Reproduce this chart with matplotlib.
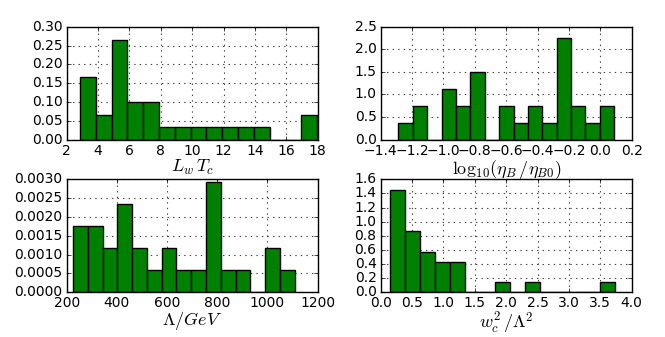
import numpy as np
import matplotlib
matplotlib.use('Agg')
import matplotlib.pyplot as plt

plt.style.use('classic')
plt.rcParams['font.family'] = ['DejaVu Sans']
plt.rcParams['mathtext.fontset'] = 'cm'
plt.rcParams['axes.unicode_minus'] = True

# bin edges (first edge, bin width, number of bins) and counts per bin
lwtc_start, lwtc_width = 2.85, 1.007
lwtc_counts = [5, 2, 8, 3, 3, 1, 1, 1, 1, 1, 1, 1, 0, 0, 2]

eta_start, eta_width = -1.287, 0.0917
eta_counts = [1, 2, 0, 3, 2, 4, 0, 2, 1, 2, 1, 6, 2, 1, 2]

lam_start, lam_width = 225.0, 58.9
lam_counts = [3, 3, 2, 4, 2, 1, 2, 1, 1, 5, 1, 1, 0, 2, 1]

wc_start, wc_width = 0.143, 0.239
wc_counts = [10, 6, 4, 3, 3, 0, 0, 1, 0, 1, 0, 0, 0, 0, 1]

xlabels = [r'$L_w\,T_c$', r'$\mathrm{log}_{10}(\eta_B\,/\eta_{B0})$',
           r'$\Lambda/GeV$', r'$w_c^2\,/\Lambda^2$']
xlims = [(2, 18), (-1.4, 0.2), (200, 1200), (0, 4)]
ylims = [(0, 0.30), (0, 2.5), (0, 0.0030), (0, 1.6)]

panels = [(lwtc_start, lwtc_width, lwtc_counts),
          (eta_start, eta_width, eta_counts),
          (lam_start, lam_width, lam_counts),
          (wc_start, wc_width, wc_counts)]

rects = [[0.1003, 0.586, 0.3774, 0.3347],
         [0.5725, 0.586, 0.3774, 0.3347],
         [0.1003, 0.1326, 0.3774, 0.3353],
         [0.5725, 0.1326, 0.3774, 0.3353]]

fig = plt.figure(figsize=(6.65, 3.37), dpi=100, facecolor='white')

for i in range(4):
    start, width, counts = panels[i]
    edges = start + width * np.arange(len(counts) + 1)
    centers = 0.5 * (edges[:-1] + edges[1:])
    ax = fig.add_axes(rects[i])
    ax.hist(centers, bins=edges, weights=counts, density=True,
            color='green', edgecolor='black', linewidth=1.0)
    ax.set_xlim(*xlims[i])
    ax.set_ylim(*ylims[i])
    ax.grid(True, color='#444444', linestyle=':', linewidth=0.8)
    ax.set_axisbelow(True)
    ax.tick_params(labelsize=10, length=3, pad=3)
    ax.set_xlabel(xlabels[i], fontsize=13, labelpad=0)
    if i == 2:
        ax.yaxis.set_major_formatter(matplotlib.ticker.FormatStrFormatter('%.4f'))

fig.savefig('out.png', dpi=100, facecolor='white')
